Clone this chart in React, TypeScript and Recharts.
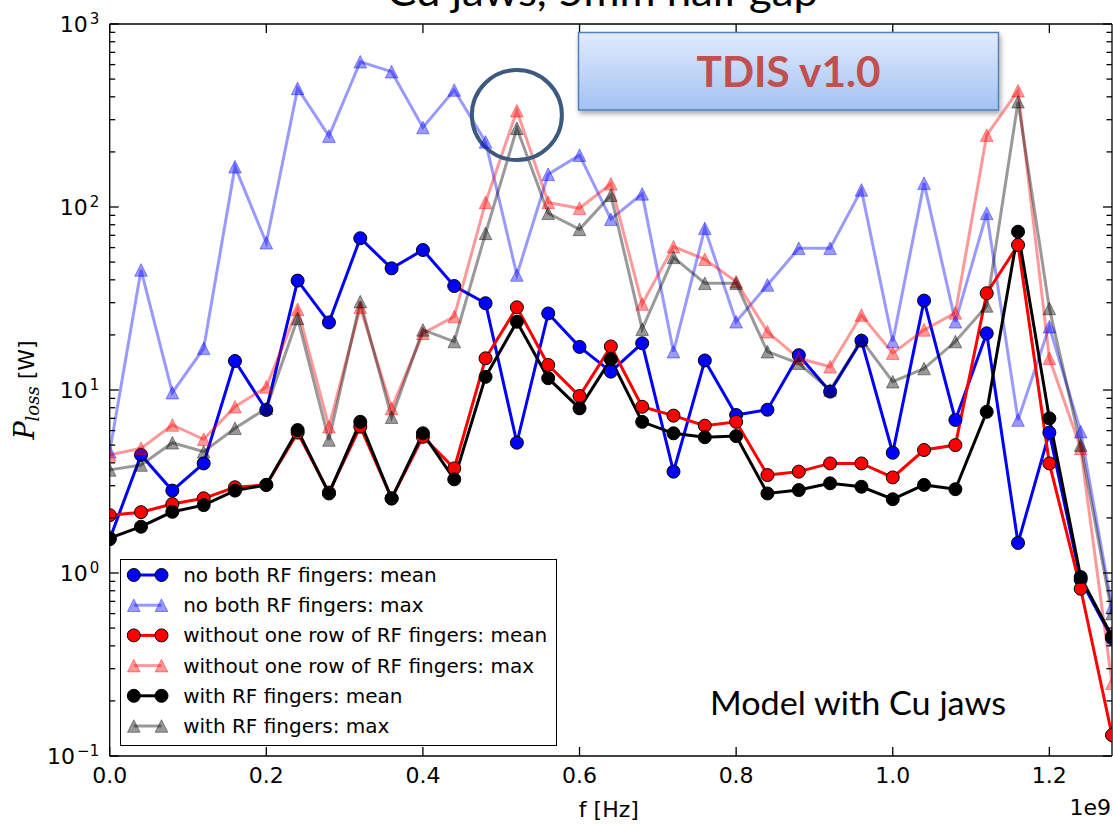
import React from 'react';
import { LineChart, Line, XAxis, YAxis, ReferenceDot, Legend } from 'recharts';

// Frequency axis, in units of 1e9 Hz
const freq = [
  0.0, 0.04, 0.08, 0.12, 0.16, 0.2, 0.24, 0.28, 0.32, 0.36, 0.4, 0.44, 0.48, 0.52, 0.56, 0.6, 0.64,
  0.68, 0.72, 0.76, 0.8, 0.84, 0.88, 0.92, 0.96, 1.0, 1.04, 1.08, 1.12, 1.16, 1.2, 1.24, 1.28,
];

// Power loss [W]
const noFingersMean = [
  1.53, 4.42, 2.82, 3.97, 14.4, 7.78, 39.6, 23.4, 67.5, 46.2, 58.2, 37.0, 29.8, 5.15, 26.2, 17.2, 12.6,
  18.0, 3.58, 14.5, 7.3, 7.8, 15.5, 9.8, 18.6, 4.54, 30.8, 6.86, 20.4, 1.46, 5.85, 0.92, 0.44,
];
const noFingersMax = [
  4.6, 45.3, 9.67, 16.9, 166, 63.8, 445, 244, 622, 549, 272, 436, 227, 42.5, 151, 192, 85.7,
  118, 16.2, 76.5, 23.6, 37.5, 59.5, 59.5, 124, 18.4, 135, 23.6, 92.4, 6.85, 22.2, 5.92, 0.65,
];
const oneRowMean = [
  2.07, 2.15, 2.38, 2.56, 2.94, 3.03, 5.85, 2.75, 6.3, 2.56, 5.55, 3.73, 14.9, 28.3, 13.7, 9.27, 17.3,
  8.1, 7.24, 6.38, 6.7, 3.43, 3.58, 3.97, 3.97, 3.33, 4.7, 5.0, 33.8, 62, 3.97, 0.82, 0.13,
];
const oneRowMax = [
  4.42, 4.8, 6.44, 5.38, 8.1, 10.4, 27.6, 6.3, 28.3, 7.94, 20.4, 25.2, 106, 336, 106, 98.4, 134,
  29.5, 60.7, 51.8, 39.1, 20.8, 14.9, 13.4, 25.7, 15.9, 21.3, 26.4, 247, 432, 14.9, 4.8, 0.25,
];
const withFingersMean = [
  1.55, 1.79, 2.16, 2.35, 2.82, 3.03, 6.04, 2.72, 6.7, 2.55, 5.8, 3.25, 11.8, 23.6, 11.6, 7.94, 14.7,
  6.7, 5.8, 5.52, 5.6, 2.72, 2.84, 3.09, 2.96, 2.53, 3.03, 2.87, 7.6, 73.3, 7.0, 0.95, 0.45,
];
const withFingersMax = [
  3.66, 3.89, 5.15, 4.6, 6.18, 7.94, 24.6, 5.33, 30.4, 7.1, 21.3, 18.4, 71.8, 269, 92.4, 75.5, 116,
  21.5, 53.1, 38.3, 38.3, 16.2, 14.0, 10.0, 18.8, 11.1, 13.1, 18.4, 28.8, 376, 27.9, 5.0, 0.6,
];

const xTicks = [0.0, 0.2, 0.4, 0.6, 0.8, 1.0, 1.2];
const decades = [0.1, 1, 10, 100, 1000];

// Highlighted resonance peak
const highlightFreq = 0.52;
const highlightPower = 318;

type Kind = 'mean' | 'max';
interface SeriesDef {
  key: string;
  name: string;
  color: string;
  kind: Kind;
  values: number[];
}

const SERIES: SeriesDef[] = [
  { key: 'noMean', name: 'no both RF fingers: mean', color: '#0000ff', kind: 'mean', values: noFingersMean },
  { key: 'noMax', name: 'no both RF fingers: max', color: '#0000ff', kind: 'max', values: noFingersMax },
  { key: 'rowMean', name: 'without one row of RF fingers: mean', color: '#ff0000', kind: 'mean', values: oneRowMean },
  { key: 'rowMax', name: 'without one row of RF fingers: max', color: '#ff0000', kind: 'max', values: oneRowMax },
  { key: 'withMean', name: 'with RF fingers: mean', color: '#000000', kind: 'mean', values: withFingersMean },
  { key: 'withMax', name: 'with RF fingers: max', color: '#000000', kind: 'max', values: withFingersMax },
];

const rows = freq.map((f, i) => {
  const row: Record<string, number> = { f };
  SERIES.forEach((s) => {
    row[s.key] = s.values[i];
  });
  return row;
});

// major decades plus 2..9 minor ticks
const yTicks: number[] = [];
decades.forEach((d, i) => {
  if (i === decades.length - 1) {
    yTicks.push(d);
    return;
  }
  for (let m = 1; m <= 9; m++) yTicks.push(+(d * m).toPrecision(6));
});
const isDecade = (v: number) => Math.abs(Math.log10(v) - Math.round(Math.log10(v))) < 1e-6;

const ALPHA = 0.4;
const SANS = '"DejaVu Sans", sans-serif';
const SERIF = '"DejaVu Serif", serif';
const SLIDE = 'Lato, "Open Sans", sans-serif';

const MAJOR = 9;
const MINOR = 5.5;
const AXIS_W = 1.3;

const triPath = (cx: number, cy: number, h: number) =>
  `M${cx},${cy - h}L${cx - h},${cy + h}L${cx + h},${cy + h}Z`;

const makeTriangleDot = (s: SeriesDef) => (props: any) => {
  const { cx, cy, index } = props;
  if (cx == null || cy == null) return <g key={`${s.key}-${index}`} />;
  return (
    <path
      key={`${s.key}-${index}`}
      d={triPath(cx, cy, 6.3)}
      fill={s.color}
      fillOpacity={ALPHA}
      stroke={s.color}
      strokeOpacity={ALPHA}
      strokeWidth={1}
    />
  );
};

const BottomTick = (props: any) => {
  const { x, y, payload } = props;
  return (
    <g>
      <line x1={x} y1={y} x2={x} y2={y - MAJOR} stroke="#000" strokeWidth={AXIS_W} />
      <text x={x} y={y + 27.3} textAnchor="middle" fontSize={22} fontFamily={SANS} fill="#000">
        {Number(payload.value).toFixed(1)}
      </text>
    </g>
  );
};

const TopTick = (props: any) => {
  const { x, y } = props;
  return <line x1={x} y1={y} x2={x} y2={y + MAJOR} stroke="#000" strokeWidth={AXIS_W} />;
};

const LeftTick = (props: any) => {
  const { x, y, payload } = props;
  const v = Number(payload.value);
  const major = isDecade(v);
  const exp = Math.round(Math.log10(v));
  return (
    <g>
      <line x1={x} y1={y} x2={x + (major ? MAJOR : MINOR)} y2={y} stroke="#000" strokeWidth={AXIS_W} />
      {major && (
        <text x={x - 10.5} y={y + 8.4} textAnchor="end" fontFamily={SANS} fill="#000">
          <tspan fontSize={22}>10</tspan>
          <tspan fontSize={15} dx={2} dy={-8.4}>
            {exp < 0 ? `\u2212${-exp}` : `${exp}`}
          </tspan>
        </text>
      )}
    </g>
  );
};

const RightTick = (props: any) => {
  const { x, y, payload } = props;
  const major = isDecade(Number(payload.value));
  return <line x1={x} y1={y} x2={x - (major ? MAJOR : MINOR)} y2={y} stroke="#000" strokeWidth={AXIS_W} />;
};

const YLabel = (props: any) => {
  const vb = props.viewBox || { x: 0, y: 24, width: 110, height: 732 };
  const cx = vb.x + 34;
  const cy = vb.y + vb.height / 2;
  return (
    <text x={cx} y={cy} textAnchor="middle" transform={`rotate(-90, ${cx}, ${cy})`} fill="#000">
      <tspan fontFamily={SERIF} fontStyle="italic" fontSize={27}>P</tspan>
      <tspan fontFamily={SERIF} fontStyle="italic" fontSize={18} dy={5}>loss</tspan>
      <tspan fontFamily={SANS} fontSize={22} dy={-5}>{' [W]'}</tspan>
    </text>
  );
};

const XLabel = (props: any) => {
  const vb = props.viewBox || { x: 110, y: 756, width: 1002, height: 68 };
  return (
    <g>
      <text x={vb.x + vb.width / 2 - 2} y={vb.y + 61} textAnchor="middle" fontSize={22} fontFamily={SANS} fill="#000">
        f [Hz]
      </text>
      <text x={vb.x + vb.width - 1} y={vb.y + 59} textAnchor="end" fontSize={22} fontFamily={SANS} fill="#000">
        1e9
      </text>
    </g>
  );
};

const LegendBox = (props: any) => {
  const payload: any[] = props.payload || [];
  // keep the plotting order, whatever order the payload arrives in
  const entries = SERIES.filter((s) => payload.length === 0 || payload.some((p) => p.dataKey === s.key));
  const rowGap = 30.2;
  return (
    <svg width={437} height={187} style={{ display: 'block' }}>
      <rect x={0.5} y={0.5} width={436} height={186} fill="#fff" stroke="#000" strokeWidth={1} />
      {entries.map((s, i) => {
        const y = 16 + i * rowGap;
        const op = s.kind === 'max' ? ALPHA : 1;
        return (
          <g key={s.key}>
            <line x1={13.8} y1={y} x2={41.5} y2={y} stroke={s.color} strokeOpacity={op} strokeWidth={3} />
            {[13.8, 41.5].map((mx) =>
              s.kind === 'mean' ? (
                <circle key={mx} cx={mx} cy={y} r={6.5} fill={s.color} stroke="#000" strokeWidth={1} />
              ) : (
                <path
                  key={mx}
                  d={triPath(mx, y, 6.3)}
                  fill={s.color}
                  fillOpacity={ALPHA}
                  stroke={s.color}
                  strokeOpacity={ALPHA}
                  strokeWidth={1}
                />
              ),
            )}
            <text x={63.2} y={y + 7} fontSize={20} fontFamily={SANS} fill="#000">
              {s.name}
            </text>
          </g>
        );
      })}
    </svg>
  );
};

const Overlay = () => (
  <svg
    width={1113}
    height={824}
    style={{ position: 'absolute', left: 0, top: 0, pointerEvents: 'none' }}
  >
    <defs>
      <linearGradient id="boxFill" x1="0" y1="0" x2="0" y2="1">
        <stop offset="0" stopColor="#e1ebfc" />
        <stop offset="1" stopColor="#a2c2f4" />
      </linearGradient>
      <filter id="boxShadow" x="-10%" y="-20%" width="120%" height="160%">
        <feDropShadow dx="1.5" dy="3" stdDeviation="2.5" floodColor="#000" floodOpacity="0.35" />
      </filter>
    </defs>
    <text x={387} y={6} fontSize={40} fontFamily={SLIDE} fill="#000" textLength={431} lengthAdjust="spacingAndGlyphs">
      Cu jaws, 5mm half gap
    </text>
    <rect
      x={578.5}
      y={32.5}
      width={420}
      height={77.5}
      fill="url(#boxFill)"
      stroke="#4f81bd"
      strokeWidth={1.5}
      filter="url(#boxShadow)"
    />
    <text
      x={696.5}
      y={87}
      fontSize={42}
      fontWeight={700}
      fontFamily={SLIDE}
      fill="#c0504d"
      textLength={184}
      lengthAdjust="spacingAndGlyphs"
    >
      TDIS v1.0
    </text>
    <text x={710} y={715} fontSize={32} fontFamily={SLIDE} fill="#000" textLength={296} lengthAdjust="spacingAndGlyphs">
      Model with Cu jaws
    </text>
  </svg>
);

export default function App() {
  return (
    <div style={{ position: 'absolute', left: 0, top: 0, width: 1113, height: 824, overflow: 'hidden', background: '#fff' }}>
      <LineChart width={1115} height={824} data={rows} margin={{ top: 23, right: 0, bottom: 0, left: 0 }}>
        <XAxis
          xAxisId="b"
          dataKey="f"
          type="number"
          domain={[0, 1.28]}
          allowDataOverflow
          ticks={xTicks}
          interval={0}
          height={68}
          tickSize={0}
          tickMargin={0}
          tickLine={false}
          axisLine={{ stroke: '#000', strokeWidth: AXIS_W }}
          tick={BottomTick}
          label={XLabel}
        />
        <XAxis
          xAxisId="t"
          orientation="top"
          dataKey="f"
          type="number"
          domain={[0, 1.28]}
          allowDataOverflow
          ticks={xTicks}
          interval={0}
          height={1}
          tickSize={0}
          tickMargin={0}
          tickLine={false}
          axisLine={{ stroke: '#000', strokeWidth: AXIS_W }}
          tick={TopTick}
        />
        <YAxis
          yAxisId="l"
          type="number"
          scale="log"
          domain={[0.1, 1000]}
          allowDataOverflow
          ticks={yTicks}
          interval={0}
          width={109.7}
          tickSize={0}
          tickMargin={0}
          tickLine={false}
          axisLine={{ stroke: '#000', strokeWidth: AXIS_W }}
          tick={LeftTick}
          label={YLabel}
        />
        <YAxis
          yAxisId="r"
          orientation="right"
          type="number"
          scale="log"
          domain={[0.1, 1000]}
          allowDataOverflow
          ticks={yTicks}
          interval={0}
          width={3}
          tickSize={0}
          tickMargin={0}
          tickLine={false}
          axisLine={{ stroke: '#000', strokeWidth: AXIS_W }}
          tick={RightTick}
        />
        {SERIES.map((s) =>
          s.kind === 'mean' ? (
            <Line
              key={s.key}
              xAxisId="b"
              yAxisId="l"
              type="linear"
              dataKey={s.key}
              name={s.name}
              stroke={s.color}
              strokeWidth={3}
              dot={{ r: 6.5, fill: s.color, stroke: '#000', strokeWidth: 1 }}
              activeDot={false}
              isAnimationActive={false}
            />
          ) : (
            <Line
              key={s.key}
              xAxisId="b"
              yAxisId="l"
              type="linear"
              dataKey={s.key}
              name={s.name}
              stroke={s.color}
              strokeOpacity={ALPHA}
              strokeWidth={3}
              dot={makeTriangleDot(s)}
              activeDot={false}
              isAnimationActive={false}
            />
          ),
        )}
        <ReferenceDot
          xAxisId="b"
          yAxisId="l"
          x={highlightFreq}
          y={highlightPower}
          r={45}
          fill="none"
          stroke="#3d5a7e"
          strokeWidth={4}
          ifOverflow="visible"
        />
        <Legend
          layout="vertical"
          align="center"
          verticalAlign="middle"
          wrapperStyle={{ position: 'absolute', left: 119.5, top: 559, width: 437, height: 187, margin: 0, padding: 0 }}
          content={LegendBox}
        />
      </LineChart>
      <Overlay />
    </div>
  );
}
